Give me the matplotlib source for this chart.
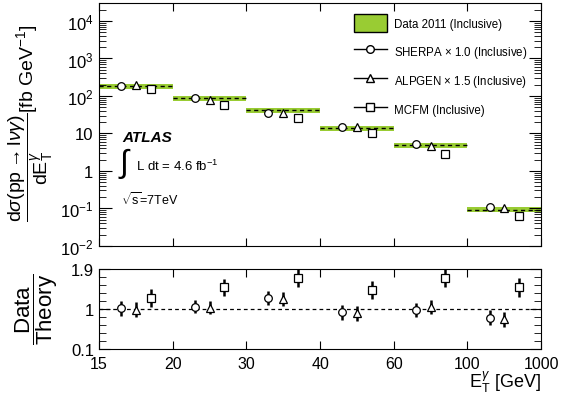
import numpy as np
import matplotlib.pyplot as plt
from matplotlib.lines import Line2D
from matplotlib.patches import Patch, Rectangle

plt.rcParams['font.family'] = ['Liberation Sans', 'DejaVu Sans']
plt.rcParams['mathtext.fontset'] = 'custom'
plt.rcParams['mathtext.rm'] = 'Liberation Sans'
plt.rcParams['mathtext.it'] = 'Liberation Sans:italic'
plt.rcParams['mathtext.bf'] = 'Liberation Sans:bold'

# bin edges (equal-width display bins)
edge_labels = ['15', '20', '30', '40', '60', '100', '1000']

# measured cross sections [fb/GeV]
data_xs = [185, 87, 42, 14, 4.9, 0.092]
data_relerr = [0.15, 0.15, 0.15, 0.15, 0.15, 0.15]

# theory predictions in the top panel
sherpa_xs = [185, 88, 35, 15, 5.1, 0.11]
alpgen_xs = [190, 80, 34, 14.5, 4.7, 0.105]
mcfm_xs = [150, 57, 26, 10, 2.9, 0.063]

# Data / Theory ratios
sherpa_ratio = [1.02, 1.06, 1.26, 0.93, 0.98, 0.81]
alpgen_ratio = [0.99, 1.03, 1.23, 0.91, 1.04, 0.77]
mcfm_ratio = [1.26, 1.49, 1.71, 1.43, 1.71, 1.49]
sherpa_rerr = [0.17, 0.15, 0.16, 0.17, 0.16, 0.17]
alpgen_rerr = [0.17, 0.15, 0.16, 0.17, 0.16, 0.17]
mcfm_rerr = [0.20, 0.19, 0.21, 0.20, 0.21, 0.21]

green = '#99cc33'
nb = len(data_xs)
centers = np.arange(nb)
fig = plt.figure(figsize=(5.69, 4.10), dpi=100)
ax = fig.add_axes([0.174, 0.398, 0.777, 0.592])
axr = fig.add_axes([0.174, 0.146, 0.777, 0.195])

# top panel
for i in range(nb):
    lo = data_xs[i] * (1 - data_relerr[i])
    hi = data_xs[i] * (1 + data_relerr[i])
    ax.add_patch(Rectangle((i, lo), 1, hi - lo, facecolor=green, edgecolor='none', zorder=1))
    ax.plot([i, i + 1], [data_xs[i], data_xs[i]], color='black', ls=(0, (3, 2.5)), lw=1, zorder=2)

offs = [0.3, 0.5, 0.7]
markers = ['o', '^', 's']
for off, mk, ys, rerr in zip(offs, markers, [sherpa_xs, alpgen_xs, mcfm_xs],
                             [sherpa_rerr, alpgen_rerr, mcfm_rerr]):
    ys = np.array(ys)
    ye = ys * np.array(rerr) * 0.6
    ax.errorbar(centers + off, ys, yerr=ye, fmt=mk, mfc='white', mec='black', ms=5.5, mew=0.9,
                ecolor='black', elinewidth=1.8, capsize=0, zorder=3)

ax.set_yscale('log')
ax.set_ylim(1e-2, 3e4)
ax.set_xlim(0, nb)
ax.set_xticks(np.arange(nb + 1))
ax.set_xticklabels([])
ax.set_yticks([1e-2, 1e-1, 1, 10, 1e2, 1e3, 1e4])
ax.set_yticklabels(['$10^{-2}$', '$10^{-1}$', '1', '10', '$10^{2}$', '$10^{3}$', '$10^{4}$'])
ax.tick_params(axis='both', which='both', direction='in', top=True, right=True, labelsize=12)
ax.tick_params(axis='y', which='major', length=9)
ax.tick_params(axis='y', which='minor', length=5)
ax.tick_params(axis='x', which='major', length=6)
ax.tick_params(axis='y', pad=4)

ax.text(0.052, 0.45, 'ATLAS', transform=ax.transAxes, fontsize=11, fontweight='bold',
        fontstyle='italic', va='center')
ax.text(0.043, 0.345, r'$\int$', transform=ax.transAxes, fontsize=23, va='center')
ax.text(0.083, 0.33, r'L dt = 4.6 fb$^{-1}$', transform=ax.transAxes, fontsize=9.5, va='center')
ax.text(0.05, 0.195, r'$\sqrt{\mathrm{s}}$=7TeV', transform=ax.transAxes, fontsize=9, va='center')

handles = [Patch(facecolor=green, edgecolor='black', lw=1),
           Line2D([], [], color='black', marker='o', mfc='white', ms=5.5, lw=1),
           Line2D([], [], color='black', marker='^', mfc='white', ms=5.5, lw=1),
           Line2D([], [], color='black', marker='s', mfc='white', ms=5.5, lw=1)]
labels = ['Data 2011 (Inclusive)', r'SHERPA $\times$ 1.0 (Inclusive)',
          r'ALPGEN $\times$ 1.5 (Inclusive)', 'MCFM (Inclusive)']
ax.legend(handles, labels, loc='upper left', bbox_to_anchor=(0.555, 0.993), frameon=False,
          fontsize=8.3, handlelength=2.9, handleheight=2.0, labelspacing=0.95, handletextpad=0.6,
          borderpad=0.3)

fig.text(0.055, 0.70, r'$\dfrac{\mathrm{d}\sigma(\mathrm{pp}\rightarrow\mathrm{l}\nu\gamma)}{\mathrm{dE}_\mathrm{T}^{\gamma}}$[fb GeV$^{-1}$]',
         rotation=90, fontsize=14, ha='center', va='center')

# ratio panel
axr.axhline(1.0, color='black', ls=(0, (3, 2.5)), lw=0.9, zorder=1)
for off, mk, ys, ye in zip(offs, markers, [sherpa_ratio, alpgen_ratio, mcfm_ratio],
                           [sherpa_rerr, alpgen_rerr, mcfm_rerr]):
    axr.errorbar(centers + off, ys, yerr=ye, fmt=mk, mfc='white', mec='black', ms=5.5, mew=0.9,
                 ecolor='black', elinewidth=1.8, capsize=0, zorder=3)
axr.set_xlim(0, nb)
axr.set_ylim(0.1, 1.9)
axr.set_xticks(np.arange(nb + 1))
axr.set_xticklabels(edge_labels)
axr.set_yticks([0.1, 1.0, 1.9])
axr.set_yticklabels(['0.1', '1', '1.9'])
axr.set_yticks(np.arange(0.1, 1.9, 0.18), minor=True)
axr.tick_params(axis='both', which='both', direction='in', top=True, right=True, labelsize=12)
axr.tick_params(axis='x', labelsize=11.5)
axr.tick_params(axis='y', which='major', length=8)
axr.tick_params(axis='y', which='minor', length=5)
axr.tick_params(axis='x', which='major', length=6, pad=5)
fig.text(0.065, 0.245, r'$\dfrac{\mathrm{Data}}{\mathrm{Theory}}$', rotation=90, fontsize=16,
         ha='center', va='center')

fig.text(0.951, 0.036, r'E$_\mathrm{T}^{\gamma}$ [GeV]', fontsize=13, ha='right', va='bottom')

fig.savefig('out.png', dpi=100)
